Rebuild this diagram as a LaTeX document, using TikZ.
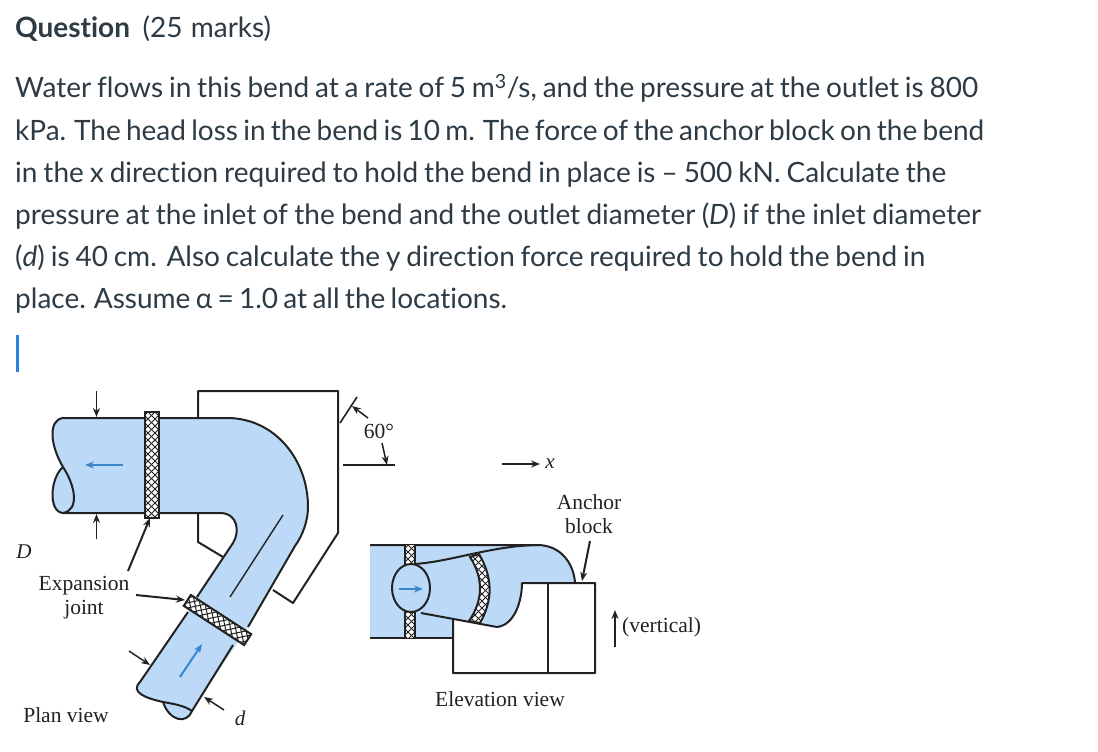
\documentclass[tikz,border=0pt]{standalone}
\usepackage{fontspec}
\setmainfont{Lato}[WordSpace=0.72,Ligatures=NoCommon]
\newfontfamily\serifd{Liberation Serif}
\usetikzlibrary{arrows.meta}
\definecolor{bodyt}{HTML}{2D3B45}
\definecolor{pipeb}{HTML}{BCDAF8}
\definecolor{flowb}{HTML}{3A86CC}
\definecolor{inkd}{HTML}{222222}
\definecolor{cursorb}{HTML}{2D7FE0}
\hbadness=10000
\hfuzz=20pt
\tikzset{
 bodyline/.style={anchor=base west,inner sep=0pt,text=bodyt,font=\fontsize{28}{30}\selectfont},
 lab/.style={inner sep=0pt,text=inkd,font=\serifd\fontsize{21.5}{25}\selectfont,align=center},
 ital/.style={font=\serifd\itshape\fontsize{21}{24}\selectfont},
 outl/.style={draw=inkd,line width=2pt,line join=round},
 pipe/.style={fill=pipeb,draw=none},
 ptr/.style={draw=inkd,line width=1.5pt,-{Stealth[length=9pt,width=7pt]}},
 flow/.style={draw=flowb,line width=2pt,-{Stealth[length=9pt,width=7pt]}},
 hatch/.style={draw=inkd,line width=1pt}
}
\newcommand{\crossh}[4]{%
 \begin{scope}
  \clip (#1,#2) rectangle (#3,#4);
  \foreach \k in {-130,-123,...,250}{
   \draw[hatch] (#1+\k,#2) -- ++(150,150);
   \draw[hatch] (#1+\k,#2) -- ++(-150,150);
  }
 \end{scope}
}
\begin{document}
\begin{tikzpicture}[x=1pt,y=-1pt]
\useasboundingbox (0,0) rectangle (1098,752);
\fill[white] (0,0) rectangle (1098,752);
% text
\node[bodyline] (title) at (15,38) {\hbox to 256pt{\textbf{Question}\hspace{0.45em}(25 marks)}};
\node[bodyline] (l1) at (15,98) {\hbox to 963pt{Water flows in this bend at a rate of 5 m\textsuperscript{3}/s, and the pressure at the outlet is 800}};
\node[bodyline] (l2) at (15,140) {\hbox to 969pt{kPa. The head loss in the bend is 10 m. The force of the anchor block on the bend}};
\node[bodyline] (l3) at (15,182) {\hbox to 931pt{in the x direction required to hold the bend in place is – 500 kN. Calculate the}};
\node[bodyline] (l4) at (15,224) {\hbox to 966pt{pressure at the inlet of the bend and the outlet diameter (\textit{D}) if the inlet diameter}};
\node[bodyline] (l5) at (15,266) {\hbox to 910pt{(\textit{d}) is 40 cm. Also calculate the y direction force required to hold the bend in}};
\node[bodyline] (l6) at (15,308) {\hbox to 492pt{place. Assume α = 1.0 at all the locations.}};
\fill[cursorb] (15.5,335) rectangle (18.5,372);
% ---------- plan view: anchor block
\draw[outl] (198,418) -- (198,391) -- (338,391) -- (338,533) -- (293,603) -- (273,590);
\draw[outl] (198,513) -- (198,542) -- (223,557);
% pipe
\path[pipe] (63,418) -- (227,418) .. controls (275,418) and (308,460) .. (308,507)
  .. controls (308,520) and (303,535) .. (295,546) -- (248,627) -- (192,710)
  .. controls (187,724) and (170,722) .. (163,702)
  .. controls (145,698) and (130,692) .. (140,682)
  -- (188,612) -- (223,557) -- (233,543) .. controls (240,532) and (238,513) .. (220,513) -- (63,513)
  .. controls (48,512) and (50,478) .. (63,467) .. controls (50,445) and (48,420) .. (63,418) -- cycle;
% outlines of pipe
\draw[outl] (63,418) -- (227,418) .. controls (275,418) and (308,460) .. (308,507)
  .. controls (308,520) and (303,535) .. (295,546) -- (248,627);
\draw[outl] (63,513) -- (220,513) .. controls (238,513) and (240,532) .. (233,543) -- (197,597);
\draw[outl] (63,418) .. controls (48,420) and (50,445) .. (63,467) .. controls (75,485) and (80,510) .. (63,513)
  .. controls (48,512) and (50,478) .. (63,467);
\draw[outl] (188,612) -- (140,682) .. controls (130,692) and (145,698) .. (163,702)
  .. controls (175,704) and (185,706) .. (192,711) -- (233,645);
\draw[outl] (163,702) .. controls (170,722) and (187,724) .. (192,711);
% centre line
\draw[draw=inkd,line width=1.4pt] (283,515) -- (230,597);
% flow arrows
\draw[flow] (123,465) -- (85,465);
\draw[flow] (180,677) -- (202,644);
% expansion joints
\fill[white] (145,412) rectangle (159,518);
\crossh{145}{412}{159}{518}
\draw[draw=inkd,line width=2pt] (145,412) rectangle (159,518);
\begin{scope}[shift={(217.5,620)},rotate=-33]
 \fill[white] (-36,-6.5) rectangle (36,6.5);
 \crossh{-36}{-6.5}{36}{6.5}
 \draw[draw=inkd,line width=2pt] (-36,-6.5) rectangle (36,6.5);
\end{scope}
% dimension arrows
\coordinate (dt0) at (96.5,391); \coordinate (dt1) at (96.5,417);
\coordinate (db0) at (96.5,539); \coordinate (db1) at (96.5,514);
\coordinate (ej0) at (128,571); \coordinate (ej1) at (150,518);
\coordinate (ej2) at (136,595); \coordinate (ej3) at (185,600);
\coordinate (dl0) at (129,651); \coordinate (dl1) at (150,665);
\coordinate (dr0) at (224,710); \coordinate (dr1) at (204,697);
\draw[ptr] (dt0) -- (dt1);
\draw[ptr] (db0) -- (db1);
\draw[ptr,line width=2pt] (ej0) -- (ej1);
\draw[ptr,line width=2pt] (ej2) -- (ej3);
\draw[ptr] (dl0) -- (dl1);
\draw[ptr] (dr0) -- (dr1);
\node[lab,ital] (D) at (24,552) {D};
\node[lab] (exp) at (84,597.5) {Expansion\\[-1pt]joint};
\node[lab] (plan) at (66,715) {Plan view};
\node[lab,ital] (dd) at (240,718) {d};
% angle
\coordinate (a0) at (340,423); \coordinate (a1) at (357,397);
\coordinate (b0) at (343,465); \coordinate (b1) at (395,465);
\draw[draw=inkd,line width=1.6pt] (a0) -- (a1);
\draw[draw=inkd,line width=1.6pt] (b0) -- (b1);
\node[lab] (sixty) at (379,431) {60°};
\draw[ptr] (368,418) -- (352,406);
\draw[ptr] (382,443) -- (387,465);
% x axis
\coordinate (xa) at (502,464); \coordinate (xb) at (540,464);
\draw[ptr] (xa) -- (xb);
\node[lab,ital] (xl) at (550,464) {x};
% ---------- elevation view
\path[pipe] (370,545) -- (537,545) .. controls (562,545) and (574,565) .. (575,583) -- (522,583) .. controls (522,600) and (515,625) .. (497,627)
  -- (453,619) -- (453,638) -- (370,638) -- cycle;
\draw[outl] (370,545) -- (537,545) .. controls (562,545) and (574,565) .. (575,583);
\draw[outl] (370,638) -- (453,638);
\draw[outl] (453,619) -- (453,673) -- (595,673) -- (595,583) -- (522,583)
  .. controls (522,600) and (515,625) .. (497,627) -- (421,613);
\draw[outl] (548,583) -- (548,673);
% upper cone
\draw[outl] (414,564) .. controls (450,562) and (490,546) .. (537,545);
% joints on left
\fill[white] (405,545) rectangle (415,566);
\crossh{405}{545}{415}{566}
\fill[white] (405,611) rectangle (415,638);
\crossh{405}{611}{415}{638}
\draw[draw=inkd,line width=2pt] (405,545) -- (405,567) (415,545) -- (415,567) (405,610) -- (405,638) (415,610) -- (415,638);
% curved joint
\begin{scope}
 \clip (470,557) .. controls (483.5,578) and (483.5,600) .. (469,621) -- (480,623) .. controls (493,600) and (493,578) .. (479,554) -- cycle;
 \fill[white] (465,545) rectangle (500,630);
 \crossh{465}{545}{500}{630}
\end{scope}
\draw[draw=inkd,line width=2pt] (470,557) .. controls (483.5,578) and (483.5,600) .. (469,621) -- (480,623) .. controls (493,600) and (493,578) .. (479,554) -- cycle;
% circle
\draw[outl,fill=pipeb] (411,588) ellipse (19 and 24);
\draw[flow] (399,589) -- (423,589);
% labels
\node[lab] (anch) at (589,514) {Anchor\\[-1pt]block};
\coordinate (an0) at (590,541); \coordinate (an1) at (582,581);
\draw[ptr,line width=2pt] (an0) -- (an1);
\coordinate (v0) at (615,647); \coordinate (v1) at (615,610);
\draw[ptr] (v0) -- (v1);
\node[lab,anchor=west] (vert) at (622,627) {(vertical)};
\node[lab] (elev) at (500,699) {Elevation view};
\end{tikzpicture}
\end{document}
